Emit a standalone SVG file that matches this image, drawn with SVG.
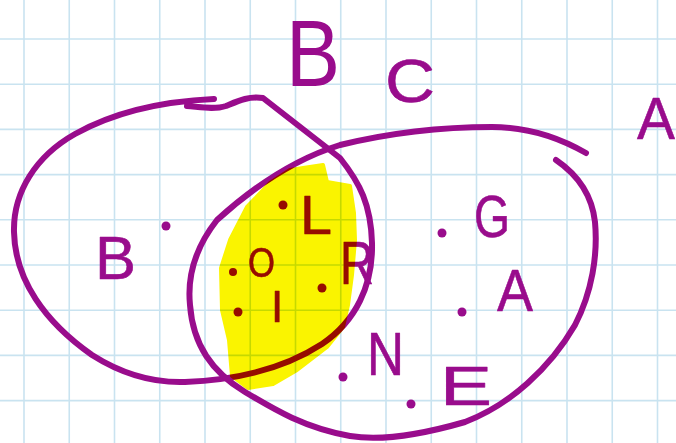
<svg xmlns="http://www.w3.org/2000/svg" width="676" height="443" viewBox="0 0 676 443">
<style>
.grid line{stroke:#c9e3f0;stroke-width:1.6}
.ink{fill:none;stroke:#990c8c;stroke-width:6;stroke-linecap:round;stroke-linejoin:round}
.t{font-family:"Liberation Sans",Arial,sans-serif;fill:#990c8c;stroke:#990c8c;stroke-width:0.6;stroke-linejoin:round}
.dot{fill:#990c8c}
.hl{fill:#faf400;stroke:#faf400;stroke-width:4;stroke-linejoin:round;mix-blend-mode:multiply}
</style>
<rect width="676" height="443" fill="#ffffff"/>
<g id="grid" class="grid">
<line x1="24" y1="0" x2="24" y2="443"/>
<line x1="69.25" y1="0" x2="69.25" y2="443"/>
<line x1="114.5" y1="0" x2="114.5" y2="443"/>
<line x1="159.75" y1="0" x2="159.75" y2="443"/>
<line x1="205" y1="0" x2="205" y2="443"/>
<line x1="250.25" y1="0" x2="250.25" y2="443"/>
<line x1="295.5" y1="0" x2="295.5" y2="443"/>
<line x1="340.75" y1="0" x2="340.75" y2="443"/>
<line x1="386" y1="0" x2="386" y2="443"/>
<line x1="431.25" y1="0" x2="431.25" y2="443"/>
<line x1="476.5" y1="0" x2="476.5" y2="443"/>
<line x1="521.75" y1="0" x2="521.75" y2="443"/>
<line x1="567" y1="0" x2="567" y2="443"/>
<line x1="612.25" y1="0" x2="612.25" y2="443"/>
<line x1="657.5" y1="0" x2="657.5" y2="443"/>
<line x1="0" y1="39" x2="676" y2="39"/>
<line x1="0" y1="84.2" x2="676" y2="84.2"/>
<line x1="0" y1="129.4" x2="676" y2="129.4"/>
<line x1="0" y1="174.6" x2="676" y2="174.6"/>
<line x1="0" y1="219.8" x2="676" y2="219.8"/>
<line x1="0" y1="265" x2="676" y2="265"/>
<line x1="0" y1="310.2" x2="676" y2="310.2"/>
<line x1="0" y1="355.4" x2="676" y2="355.4"/>
<line x1="0" y1="400.6" x2="676" y2="400.6"/>
</g>
<g id="setB">
<path class="ink" d="M214,99 C170,101 118,110 75,134 C36,156 13,192 14,232 C15,280 45,322 92,355 C125,376 155,383 185,382 C240,380 285,368 322,344 C356,321 373,285 372,243 C371,205 360,183 340,158 L263,98 C248,96 238,101 226,106 C214,110 200,107 187,106"/>
</g>
<g id="setC">
<path class="ink" d="M586,153 C560,138 530,127 492,127 C440,127 385,134 340,145 C292,160 250,190 217,220 C195,248 187,275 190,305 C193,345 212,372 245,392 C275,410 305,428 350,436 C380,441 420,435 465,422 C510,405 550,368 575,325 C592,292 598,255 595,222 C592,195 578,175 556,160"/>
</g>
<g id="labels">
<text class="t" x="286" y="86" font-size="95" textLength="54" lengthAdjust="spacingAndGlyphs" style="stroke:none">B</text>
<text class="t" x="385" y="102" font-size="62" textLength="50" lengthAdjust="spacingAndGlyphs">C</text>
<text class="t" x="637" y="139" font-size="60" textLength="38" lengthAdjust="spacingAndGlyphs">A</text>
<text class="t" x="95" y="279" font-size="62" textLength="41" lengthAdjust="spacingAndGlyphs">B</text>
<text class="t" x="300" y="234" font-size="56" textLength="32" lengthAdjust="spacingAndGlyphs">L</text>
<text class="t" x="248" y="277" font-size="42" textLength="27" lengthAdjust="spacingAndGlyphs">O</text>
<text class="t" x="277" y="322" font-size="44" text-anchor="middle">I</text>
<text class="t" x="340" y="284" font-size="62" textLength="34" lengthAdjust="spacingAndGlyphs">R</text>
<text class="t" x="474" y="237" font-size="60" textLength="36" lengthAdjust="spacingAndGlyphs">G</text>
<text class="t" x="497" y="311" font-size="60" textLength="36" lengthAdjust="spacingAndGlyphs">A</text>
<text class="t" x="367" y="375" font-size="62" textLength="37" lengthAdjust="spacingAndGlyphs">N</text>
<text class="t" x="440" y="405" font-size="56" textLength="52" lengthAdjust="spacingAndGlyphs">E</text>
</g>
<g id="dots">
<circle class="dot" cx="166" cy="226" r="4.5"/>
<circle class="dot" cx="283" cy="205" r="4.5"/>
<circle class="dot" cx="233" cy="272" r="4"/>
<circle class="dot" cx="238" cy="312" r="4.5"/>
<circle class="dot" cx="322" cy="288" r="4.5"/>
<circle class="dot" cx="442" cy="233" r="4.5"/>
<circle class="dot" cx="462" cy="312" r="4.5"/>
<circle class="dot" cx="343" cy="377" r="4.5"/>
<circle class="dot" cx="411" cy="404" r="4.5"/>
</g>
<g id="highlight">
<path class="hl" d="M270,183 L290,170 L323,165 L327,182 L350,186 L354,213 L355,240 L352,275 L348,305 L343,327 L327,347 L297,370 L273,384 L248,388 L232,376 L229,340 L222,310 L221,268 L230,240 L247,207 Z"/>
</g>
</svg>
